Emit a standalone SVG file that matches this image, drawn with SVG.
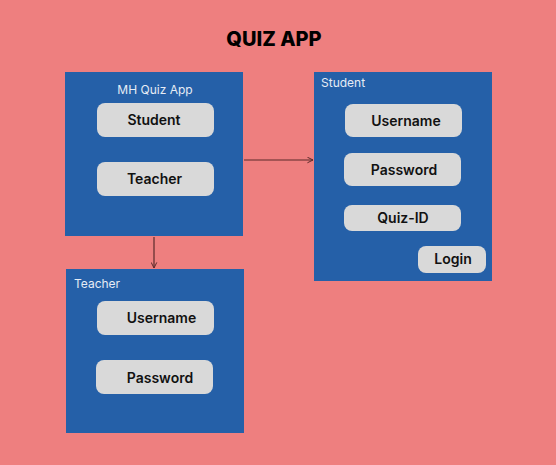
<svg xmlns="http://www.w3.org/2000/svg" width="556" height="465" viewBox="0 0 556 465">
<defs>
<style>
.panel{fill:#2560A8}
.btn{fill:#D9D9D9}
.bt{font-family:Inter,"Liberation Sans",sans-serif;font-size:14px;font-weight:600;fill:#111;text-anchor:middle}
.lbl{font-family:Inter,"Liberation Sans",sans-serif;font-size:12px;fill:#E6ECF5}
.title{font-family:Inter,"Liberation Sans",sans-serif;font-size:20px;font-weight:800;fill:#000;text-anchor:middle}
.conn{stroke:#5A2B2B;stroke-width:1.2;fill:none}
</style>
<marker id="ah" viewBox="0 0 10 10" refX="9" refY="5" markerWidth="7" markerHeight="7" orient="auto" markerUnits="userSpaceOnUse">
<path d="M1,1 L9,5 L1,9" fill="none" stroke="#5A2B2B" stroke-width="1.4"/>
</marker>
</defs>
<rect width="556" height="465" fill="#EE7F7F"/>
<text class="title" x="274" y="46">QUIZ APP</text>
<g id="main">
<rect class="panel" x="65" y="72" width="178" height="164"/>
<text class="lbl" x="155" y="94" text-anchor="middle">MH Quiz App</text>
<rect class="btn" x="97" y="103" width="117" height="34" rx="8"/>
<text class="bt" x="154" y="125">Student</text>
<rect class="btn" x="97" y="162" width="117" height="34" rx="8"/>
<text class="bt" x="154.5" y="184">Teacher</text>
</g>
<g id="student">
<rect class="panel" x="314" y="72" width="178" height="209"/>
<text class="lbl" x="321" y="87">Student</text>
<rect class="btn" x="345" y="104" width="117" height="33" rx="8"/>
<text class="bt" x="406" y="126">Username</text>
<rect class="btn" x="344" y="153" width="117" height="33" rx="8"/>
<text class="bt" x="404" y="175">Password</text>
<rect class="btn" x="344" y="205" width="117" height="26" rx="8"/>
<text class="bt" x="403" y="223">Quiz-ID</text>
<rect class="btn" x="418" y="246" width="68" height="27" rx="8"/>
<text class="bt" x="453" y="264">Login</text>
</g>
<g id="teacher">
<rect class="panel" x="66" y="269" width="178" height="164"/>
<text class="lbl" x="74" y="288">Teacher</text>
<rect class="btn" x="97" y="301" width="117" height="34" rx="8"/>
<text class="bt" x="161.5" y="323">Username</text>
<rect class="btn" x="96" y="360" width="117" height="34" rx="8"/>
<text class="bt" x="160" y="383">Password</text>
</g>
<g id="connectors">
<line class="conn" x1="244" y1="160" x2="313" y2="160" marker-end="url(#ah)"/>
<line class="conn" x1="154" y1="237" x2="154" y2="268" marker-end="url(#ah)"/>
</g>
</svg>
